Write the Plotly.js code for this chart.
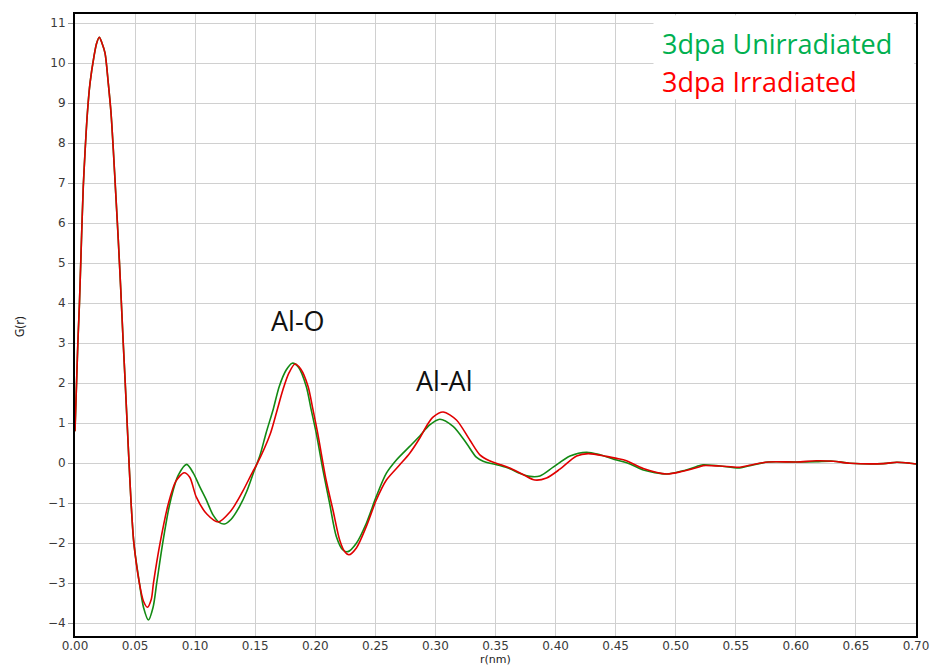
<!DOCTYPE html>
<html>
<head>
<meta charset="utf-8">
<script src="https://cdn.plot.ly/plotly-3.0.1.min.js"></script>
<style>html,body{margin:0;padding:0;background:#fff;}#chart{width:930px;height:665px;}</style>
</head>
<body>
<div id="chart"></div>
<script>
// r (nm) and G(r) for the unirradiated sample
const rUnirr = [0.000,0.0015,0.0025,0.0037,0.0055,0.0069,0.0083,0.0103,0.0125,0.0158,0.0180,0.0202,0.0225,0.0250,0.0277,0.0300,0.0319,0.0339,0.0360,0.0380,0.0400,0.0417,0.0450,0.0467,0.0490,0.0536,0.0570,0.0611,0.0650,0.0680,0.0730,0.0790,0.0860,0.0930,0.0985,0.1040,0.1090,0.1150,0.1200,0.1244,0.1300,0.1370,0.1430,0.1490,0.1540,0.1590,0.1650,0.1700,0.1758,0.1808,0.1860,0.1925,0.1965,0.2008,0.2064,0.2119,0.2175,0.2230,0.2272,0.2342,0.2425,0.2508,0.2592,0.2675,0.2786,0.2870,0.2950,0.3036,0.3147,0.3258,0.3340,0.3397,0.3536,0.3620,0.3700,0.3786,0.3870,0.3980,0.4120,0.4258,0.4370,0.4508,0.4620,0.4730,0.4925,0.5060,0.5200,0.5228,0.5367,0.5533,0.5617,0.5770,0.6006,0.6170,0.6310,0.6450,0.6728,0.6840,0.6950,0.7000];
const gUnirr = [0.8,2.2,3.1,4.0,5.7,6.92,7.75,8.75,9.5,10.17,10.5,10.65,10.5,10.25,9.5,8.75,7.83,6.75,5.6,4.4,3.1,2.07,0.0,-1.0,-2.0,-3.0,-3.6,-3.92,-3.6,-3.0,-2.0,-1.0,-0.3,-0.03,-0.25,-0.6,-0.9,-1.3,-1.48,-1.52,-1.4,-1.08,-0.7,-0.2,0.2,0.75,1.35,1.92,2.33,2.5,2.4,1.92,1.35,0.75,-0.17,-1.0,-1.83,-2.17,-2.21,-2.0,-1.5,-0.83,-0.25,0.08,0.42,0.68,0.95,1.1,0.92,0.5,0.15,0.05,-0.06,-0.14,-0.25,-0.33,-0.32,-0.1,0.18,0.275,0.21,0.08,-0.02,-0.17,-0.27,-0.19,-0.06,-0.04,-0.07,-0.12,-0.06,0.03,0.03,0.04,0.05,0.0,-0.01,0.025,0.0,-0.02];

// r (nm) and G(r) for the irradiated sample
const rIrr = [0.000,0.0015,0.0025,0.0037,0.0055,0.0069,0.0083,0.0103,0.0125,0.0158,0.0180,0.0202,0.0225,0.0250,0.0277,0.0300,0.0319,0.0339,0.0360,0.0380,0.0400,0.0417,0.0450,0.0467,0.0490,0.0536,0.0570,0.0603,0.0635,0.0653,0.0708,0.0778,0.0840,0.0908,0.0955,0.1010,0.1097,0.1194,0.1290,0.1340,0.1400,0.1480,0.1510,0.1625,0.1680,0.1730,0.1780,0.1831,0.1880,0.1940,0.1980,0.2020,0.2090,0.2147,0.2203,0.2244,0.2280,0.2342,0.2425,0.2508,0.2592,0.2703,0.2786,0.2870,0.2930,0.2980,0.3064,0.3175,0.3286,0.3370,0.3450,0.3536,0.3640,0.3740,0.3828,0.3925,0.4036,0.4175,0.4272,0.4425,0.4508,0.4590,0.4730,0.4925,0.5060,0.5200,0.5228,0.5367,0.5533,0.5617,0.5770,0.6006,0.6170,0.6310,0.6450,0.6728,0.6840,0.6950,0.7000];
const gIrr = [0.8,2.2,3.1,4.0,5.7,6.92,7.75,8.75,9.5,10.17,10.5,10.65,10.5,10.25,9.5,8.75,7.83,6.75,5.6,4.4,3.1,2.07,0.0,-1.0,-2.0,-3.0,-3.45,-3.6,-3.4,-3.0,-2.0,-1.0,-0.45,-0.24,-0.35,-0.85,-1.27,-1.47,-1.22,-1.0,-0.68,-0.21,-0.05,0.73,1.3,1.83,2.25,2.48,2.35,1.92,1.35,0.75,-0.42,-1.17,-1.92,-2.21,-2.29,-2.12,-1.58,-0.92,-0.42,-0.04,0.25,0.63,0.95,1.15,1.28,1.08,0.58,0.21,0.06,-0.03,-0.15,-0.3,-0.42,-0.37,-0.15,0.18,0.24,0.17,0.12,0.06,-0.13,-0.27,-0.2,-0.09,-0.06,-0.07,-0.1,-0.05,0.03,0.03,0.06,0.05,0.0,-0.01,0.025,0.0,-0.02];

const seriesNames = ['3dpa Unirradiated', '3dpa Irradiated'];
const peakLabels = ['Al-O', 'Al-Al'];
const peakLabelX = [0.1857, 0.307];
const peakLabelY = [3.56, 2.08];
const xTickVals = [0,0.05,0.10,0.15,0.20,0.25,0.30,0.35,0.40,0.45,0.50,0.55,0.60,0.65,0.70];
const yTickVals = [-4,-3,-2,-1,0,1,2,3,4,5,6,7,8,9,10,11];

const traces = [
  {x: rUnirr, y: gUnirr, name: seriesNames[0], type: 'scatter', mode: 'lines',
   line: {color: '#138a13', width: 1.6, shape: 'spline', smoothing: 0.8}},
  {x: rIrr, y: gIrr, name: seriesNames[1], type: 'scatter', mode: 'lines',
   line: {color: '#e00000', width: 1.6, shape: 'spline', smoothing: 0.8}}
];

const tickFont = {family: 'DejaVu Sans, sans-serif', size: 12, color: '#3a3a3a'};

const layout = {
  width: 930, height: 665,
  margin: {l: 75, r: 14, t: 14, b: 29},
  paper_bgcolor: '#ffffff', plot_bgcolor: '#ffffff',
  showlegend: false,
  xaxis: {
    range: [0, 0.70], tickvals: xTickVals, tickformat: '.2f',
    showgrid: true, gridcolor: '#d0d0d0', gridwidth: 1, zeroline: false,
    showline: true, linecolor: '#000', linewidth: 2, mirror: true,
    ticks: '', ticklabelstandoff: -2, tickfont: tickFont, automargin: false
  },
  yaxis: {
    range: [-4.32, 11.23], tickvals: yTickVals,
    showgrid: true, gridcolor: '#d0d0d0', gridwidth: 1, zeroline: false,
    showline: true, linecolor: '#000', linewidth: 2, mirror: true,
    ticks: 'outside', ticklen: 5, tickcolor: '#9a9a9a', tickfont: tickFont, automargin: false
  },
  shapes: [
    {type: 'rect', xref: 'x', yref: 'y', x0: 0.4815, x1: 0.6985, y0: 9.1, y1: 11.2,
     fillcolor: '#ffffff', line: {width: 0}, layer: 'above'}
  ],
  annotations: [
    {text: 'r(nm)', xref: 'paper', yref: 'paper', x: 0.5, y: -0.0375, xanchor: 'center', yanchor: 'middle', showarrow: false,
     font: {family: 'DejaVu Sans, sans-serif', size: 11, color: '#222'}},
    {text: 'G(r)', xref: 'paper', yref: 'paper', x: -0.065, y: 0.497, xanchor: 'center', yanchor: 'middle', textangle: -90, showarrow: false,
     font: {family: 'Noto Sans, sans-serif', size: 12, color: '#222'}},
    {text: peakLabels[0], x: peakLabelX[0], y: peakLabelY[0], xref: 'x', yref: 'y', showarrow: false,
     font: {family: 'Open Sans, sans-serif', size: 27, color: '#111'}},
    {text: peakLabels[1], x: peakLabelX[1], y: peakLabelY[1], xref: 'x', yref: 'y', showarrow: false,
     font: {family: 'Open Sans, sans-serif', size: 27, color: '#111'}},
    {text: seriesNames[0], xref: 'x', yref: 'y', x: 0.4865, y: 10.5, xanchor: 'left', showarrow: false,
     font: {family: 'Open Sans, sans-serif', size: 27, color: '#00B050'}},
    {text: seriesNames[1], xref: 'x', yref: 'y', x: 0.4865, y: 9.55, xanchor: 'left', showarrow: false,
     font: {family: 'Open Sans, sans-serif', size: 27, color: '#FF0000'}}
  ]
};

Plotly.newPlot('chart', traces, layout, {displayModeBar: false, staticPlot: true});
</script>
</body>
</html>
